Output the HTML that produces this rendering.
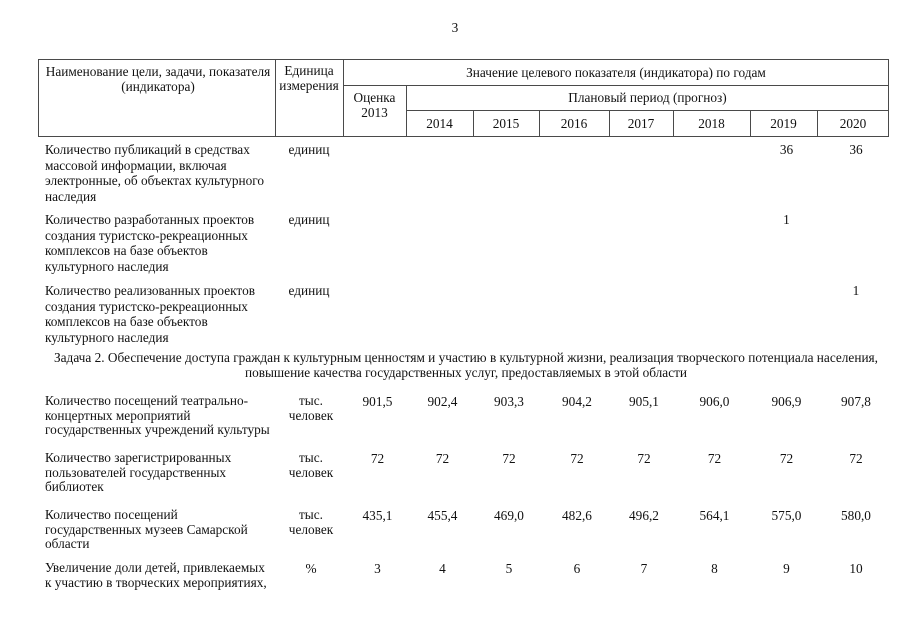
<!DOCTYPE html>
<html><head><meta charset="utf-8">
<style>
html,body{margin:0;padding:0;background:#fff;}
body{width:905px;height:640px;position:relative;overflow:hidden;font-family:"Liberation Serif","Noto Serif CJK SC",serif;font-size:13.3px;color:#111;}
.t{position:absolute;line-height:15px;white-space:nowrap;}
.c{text-align:center;}
.h{position:absolute;height:0;border-top:1px solid #4a4a4a;}
.v{position:absolute;width:0;border-left:1px solid #4a4a4a;}
</style></head><body>

<div class="t c" style="left:405px;width:100px;top:20px;">3</div>

<!-- header lines -->
<div class="h" style="left:38px;width:851px;top:59px;"></div>
<div class="h" style="left:343px;width:546px;top:85px;"></div>
<div class="h" style="left:406px;width:483px;top:110px;"></div>
<div class="h" style="left:38px;width:851px;top:136px;"></div>
<div class="v" style="left:38px;top:59px;height:78px;"></div>
<div class="v" style="left:275px;top:59px;height:78px;"></div>
<div class="v" style="left:343px;top:59px;height:78px;"></div>
<div class="v" style="left:888px;top:59px;height:78px;"></div>
<div class="v" style="left:406px;top:85px;height:52px;"></div>
<div class="v" style="left:473px;top:110px;height:27px;"></div>
<div class="v" style="left:539px;top:110px;height:27px;"></div>
<div class="v" style="left:609px;top:110px;height:27px;"></div>
<div class="v" style="left:673px;top:110px;height:27px;"></div>
<div class="v" style="left:750px;top:110px;height:27px;"></div>
<div class="v" style="left:817px;top:110px;height:27px;"></div>

<!-- header text -->
<div class="t c" style="left:38px;width:240px;top:64px;">Наименование цели, задачи, показателя<br>(индикатора)</div>
<div class="t c" style="left:275px;width:68px;top:63px;">Единица<br>измерения</div>
<div class="t c" style="left:343px;width:546px;top:65px;">Значение целевого показателя (индикатора) по годам</div>
<div class="t c" style="left:343px;width:63px;top:90px;">Оценка<br>2013</div>
<div class="t c" style="left:406px;width:483px;top:90px;">Плановый период (прогноз)</div>
<div class="t c" style="left:406px;width:67px;top:116px;">2014</div>
<div class="t c" style="left:473px;width:66px;top:116px;">2015</div>
<div class="t c" style="left:539px;width:70px;top:116px;">2016</div>
<div class="t c" style="left:609px;width:64px;top:116px;">2017</div>
<div class="t c" style="left:673px;width:77px;top:116px;">2018</div>
<div class="t c" style="left:750px;width:67px;top:116px;">2019</div>
<div class="t c" style="left:817px;width:72px;top:116px;">2020</div>

<!-- row 1 -->
<div class="t" style="left:45px;top:142px;line-height:15.5px;">Количество публикаций в средствах<br>массовой информации, включая<br>электронные, об объектах культурного<br>наследия</div>
<div class="t c" style="left:275px;width:68px;top:142px;">единиц</div>
<div class="t c" style="left:753px;width:67px;top:142px;">36</div>
<div class="t c" style="left:820px;width:72px;top:142px;">36</div>

<!-- row 2 -->
<div class="t" style="left:45px;top:212px;line-height:15.5px;">Количество разработанных проектов<br>создания туристско-рекреационных<br>комплексов на базе объектов<br>культурного наследия</div>
<div class="t c" style="left:275px;width:68px;top:212px;">единиц</div>
<div class="t c" style="left:753px;width:67px;top:212px;">1</div>

<!-- row 3 -->
<div class="t" style="left:45px;top:283px;line-height:15.5px;">Количество реализованных проектов<br>создания туристско-рекреационных<br>комплексов на базе объектов<br>культурного наследия</div>
<div class="t c" style="left:275px;width:68px;top:283px;">единиц</div>
<div class="t c" style="left:820px;width:72px;top:283px;">1</div>

<!-- Задача 2 -->
<div class="t c" style="left:40px;width:852px;top:350px;">Задача 2. Обеспечение доступа граждан к культурным ценностям и участию в культурной жизни, реализация творческого потенциала населения,<br>повышение качества государственных услуг, предоставляемых в этой области</div>

<!-- row 4 -->
<div class="t" style="left:45px;top:394px;line-height:14.7px;">Количество посещений театрально-<br>концертных мероприятий<br>государственных учреждений культуры</div>
<div class="t c" style="left:277px;width:68px;top:394px;line-height:14.7px;">тыс.<br>человек</div>
<div class="t c" style="left:346px;width:63px;top:394px;">901,5</div>
<div class="t c" style="left:409px;width:67px;top:394px;">902,4</div>
<div class="t c" style="left:476px;width:66px;top:394px;">903,3</div>
<div class="t c" style="left:542px;width:70px;top:394px;">904,2</div>
<div class="t c" style="left:612px;width:64px;top:394px;">905,1</div>
<div class="t c" style="left:676px;width:77px;top:394px;">906,0</div>
<div class="t c" style="left:753px;width:67px;top:394px;">906,9</div>
<div class="t c" style="left:820px;width:72px;top:394px;">907,8</div>

<!-- row 5 -->
<div class="t" style="left:45px;top:451px;line-height:14.5px;">Количество зарегистрированных<br>пользователей государственных<br>библиотек</div>
<div class="t c" style="left:277px;width:68px;top:451px;line-height:14.5px;">тыс.<br>человек</div>
<div class="t c" style="left:346px;width:63px;top:451px;">72</div>
<div class="t c" style="left:409px;width:67px;top:451px;">72</div>
<div class="t c" style="left:476px;width:66px;top:451px;">72</div>
<div class="t c" style="left:542px;width:70px;top:451px;">72</div>
<div class="t c" style="left:612px;width:64px;top:451px;">72</div>
<div class="t c" style="left:676px;width:77px;top:451px;">72</div>
<div class="t c" style="left:753px;width:67px;top:451px;">72</div>
<div class="t c" style="left:820px;width:72px;top:451px;">72</div>

<!-- row 6 -->
<div class="t" style="left:45px;top:508px;line-height:14.5px;">Количество посещений<br>государственных музеев Самарской<br>области</div>
<div class="t c" style="left:277px;width:68px;top:508px;line-height:14.5px;">тыс.<br>человек</div>
<div class="t c" style="left:346px;width:63px;top:508px;">435,1</div>
<div class="t c" style="left:409px;width:67px;top:508px;">455,4</div>
<div class="t c" style="left:476px;width:66px;top:508px;">469,0</div>
<div class="t c" style="left:542px;width:70px;top:508px;">482,6</div>
<div class="t c" style="left:612px;width:64px;top:508px;">496,2</div>
<div class="t c" style="left:676px;width:77px;top:508px;">564,1</div>
<div class="t c" style="left:753px;width:67px;top:508px;">575,0</div>
<div class="t c" style="left:820px;width:72px;top:508px;">580,0</div>

<!-- row 7 -->
<div class="t" style="left:45px;top:561px;line-height:14.5px;">Увеличение доли детей, привлекаемых<br>к участию в творческих мероприятиях,</div>
<div class="t c" style="left:277px;width:68px;top:561px;">%</div>
<div class="t c" style="left:346px;width:63px;top:561px;">3</div>
<div class="t c" style="left:409px;width:67px;top:561px;">4</div>
<div class="t c" style="left:476px;width:66px;top:561px;">5</div>
<div class="t c" style="left:542px;width:70px;top:561px;">6</div>
<div class="t c" style="left:612px;width:64px;top:561px;">7</div>
<div class="t c" style="left:676px;width:77px;top:561px;">8</div>
<div class="t c" style="left:753px;width:67px;top:561px;">9</div>
<div class="t c" style="left:820px;width:72px;top:561px;">10</div>

</body></html>
